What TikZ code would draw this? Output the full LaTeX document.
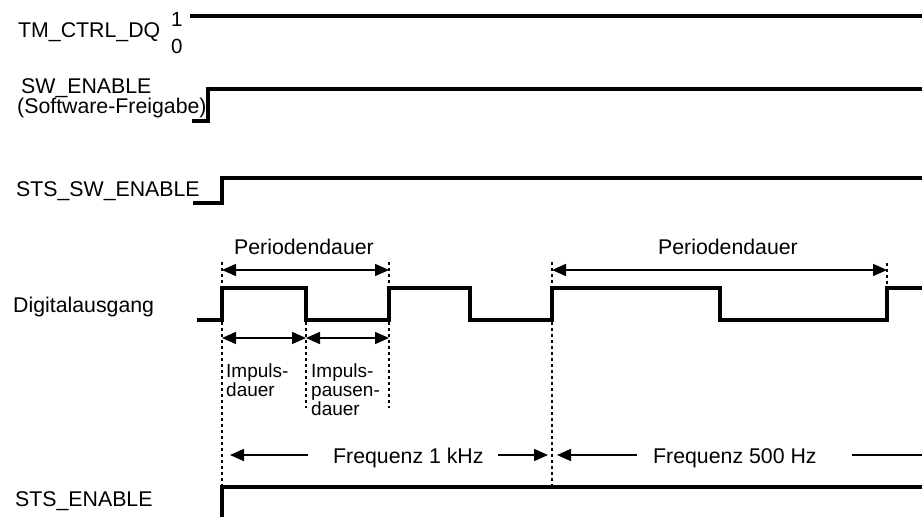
\documentclass[tikz,border=0pt]{standalone}
\usepackage{fontspec}
\setmainfont{Liberation Sans}
\usetikzlibrary{arrows.meta}
\begin{document}
\begin{tikzpicture}[x=1pt,y=-1pt,
  lbl/.style={inner sep=0pt,anchor=base west,font=\fontsize{21.3}{24}\selectfont},
  small/.style={inner sep=0pt,anchor=base west,font=\fontsize{19}{19}\selectfont,align=left},
  sig/.style={line width=3.2pt,line cap=butt,line join=miter},
  guide/.style={line width=1.5pt,dash pattern=on 3pt off 3pt},
  dim/.style={line width=1.6pt,arrows={Triangle[length=14pt,width=12pt]-Triangle[length=14pt,width=12pt]}},
  dimr/.style={line width=1.6pt,-{Triangle[length=14pt,width=12pt]}}]
\path[use as bounding box] (0,0) rectangle (922,517);

% labels
\node[lbl] (tm) at (18,37) {TM\_CTRL\_DQ};
\node[lbl,font=\fontsize{20.5}{20}\selectfont] (one) at (171,26) {1};
\node[lbl,font=\fontsize{20.5}{20}\selectfont] (zero) at (171,53) {0};
\node[lbl] (sw) at (21,93) {SW\_ENABLE};
\node[lbl] (swf) at (17,113) {(Software-Freigabe)};
\node[lbl] (stssw) at (16,196) {STS\_SW\_ENABLE};
\node[lbl] (da) at (13,312) {Digitalausgang};
\node[lbl] (stsen) at (15,506) {STS\_ENABLE};

% signals
\draw[sig] (190,16) -- (922,16);
\draw[sig] (192,121) -- (208,121) -- (208,89) -- (922,89);
\draw[sig] (193,203) -- (222,203) -- (222,178) -- (922,178);
\draw[sig] (197,320) -- (222,320) -- (222,288) -- (306,288) -- (306,320)
  -- (389,320) -- (389,288) -- (470,288) -- (470,320) -- (552,320)
  -- (552,288) -- (720,288) -- (720,320) -- (887,320) -- (887,288) -- (922,288);
\draw[sig] (222,517) -- (222,487) -- (922,487);

% guide lines
\draw[guide] (222,262) -- (222,487);
\draw[guide] (306,322) -- (306,408);
\draw[guide] (389,262) -- (389,408);
\draw[guide] (552,262) -- (552,487);
\draw[guide] (887,263) -- (887,288);

% Periodendauer
\coordinate (p1a) at (222,270);
\coordinate (p1b) at (389,270);
\draw[dim] (p1a) -- (p1b);
\node[lbl,anchor=base] (per1) at (304,254) {Periodendauer};
\coordinate (p2a) at (552,270);
\coordinate (p2b) at (887,270);
\draw[dim] (p2a) -- (p2b);
\node[lbl,anchor=base] (per2) at (728,254) {Periodendauer};

% Impuls arrows
\coordinate (i0) at (222,338);
\coordinate (i1) at (306,338);
\coordinate (i2) at (389,338);
\draw[dim] (i0) -- (i1);
\draw[dim] (i1) -- (i2);
\node[small] (imp1) at (226,396) {Impuls-\\dauer};
\node[small] (imp2) at (311,415) {Impuls-\\pausen-\\dauer};

% Frequenz row
\node[lbl] (f1) at (333,463) {Frequenz 1 kHz};
\node[lbl] (f2) at (653,463) {Frequenz 500 Hz};
\coordinate (f1l) at (230,455);
\coordinate (f1lt) at (308,455);
\coordinate (f1r) at (548,455);
\coordinate (f1rt) at (498,455);
\coordinate (f2l) at (557,455);
\coordinate (f2lt) at (637,455);
\coordinate (f2rt) at (852,455);
\coordinate (f2r) at (922,455);
\draw[dimr] (f1lt) -- (f1l);
\draw[dimr] (f1rt) -- (f1r);
\draw[dimr] (f2lt) -- (f2l);
\draw[line width=1.6pt] (f2rt) -- (f2r);
\end{tikzpicture}
\end{document}
